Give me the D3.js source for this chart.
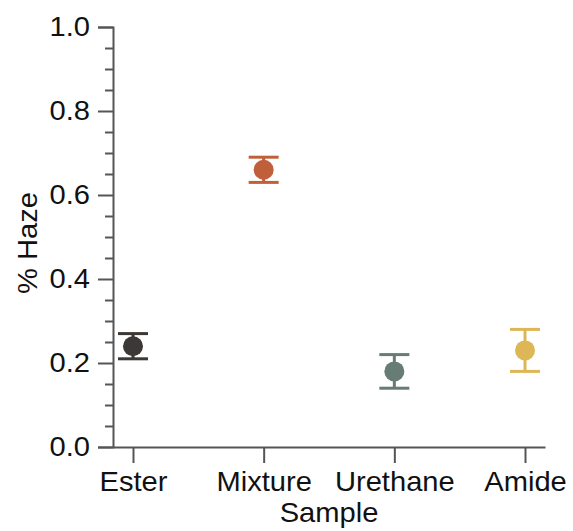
<!DOCTYPE html>
<html><head><meta charset="utf-8">
<script src="https://cdn.jsdelivr.net/npm/d3@7"></script>
<style>body{margin:0;background:#fff}svg{display:block}</style>
</head><body>
<svg id="c" width="573" height="531"></svg>
<script>
const categories = ["Ester", "Mixture", "Urethane", "Amide"];
const means = [0.24, 0.66, 0.18, 0.23];
const lower = [0.21, 0.63, 0.14, 0.18];
const upper = [0.27, 0.69, 0.22, 0.28];
const colors = ["#3b3835", "#c0603a", "#667c74", "#ddb655"];
const yTicks = [0, 0.2, 0.4, 0.6, 0.8, 1.0];
const yMinor = [0.05,0.1,0.15,0.25,0.3,0.35,0.45,0.5,0.55,0.65,0.7,0.75,0.85,0.9,0.95];

(function(){
const FONT = "'Liberation Sans', Arial, Helvetica, sans-serif";
const FS = 28, SX = 1.04, AX = "#555";
const svg = d3.select("#c");
const mLeft = 113, mRight = 545, mTop = 27, mBottom = 447;

const x = d3.scalePoint().domain(categories).range([mLeft, mRight]).padding(0.153);
const y = d3.scaleLinear().domain([0, 1]).range([mBottom, mTop]);

// y axis
const ya = svg.append("g").attr("transform", `translate(${mLeft},0)`)
  .call(d3.axisLeft(y).tickValues(yTicks).tickFormat(d3.format(".1f")).tickSize(15).tickPadding(8));
ya.select(".domain").attr("stroke", AX).attr("stroke-width", 2);
ya.selectAll(".tick line").attr("stroke", AX).attr("stroke-width", 2);
ya.selectAll(".tick text").attr("font-family", FONT).attr("font-size", FS).attr("fill", "#111")
  .attr("x", -23 / SX).attr("transform", `scale(${SX},1)`);
const ym = svg.append("g").attr("transform", `translate(${mLeft},0)`)
  .call(d3.axisLeft(y).tickValues(yMinor).tickFormat("").tickSize(8));
ym.select(".domain").remove();
ym.selectAll(".tick line").attr("stroke", AX).attr("stroke-width", 2);

// x axis
const xa = svg.append("g").attr("transform", `translate(0,${mBottom})`)
  .call(d3.axisBottom(x).tickSize(16).tickPadding(8).tickSizeOuter(0));
xa.select(".domain").attr("stroke", AX).attr("stroke-width", 2);
xa.selectAll(".tick line").attr("stroke", AX).attr("stroke-width", 2);
xa.selectAll(".tick text").attr("font-family", FONT).attr("font-size", FS).attr("fill", "#111")
  .attr("transform", `scale(${SX},1)`);

// titles
svg.append("text").attr("font-family", FONT).attr("font-size", FS).attr("fill", "#111")
  .attr("text-anchor", "middle")
  .attr("transform", `translate(329,522) scale(${SX},1)`).text("Sample");
svg.append("text").attr("font-family", FONT).attr("font-size", FS).attr("fill", "#111")
  .attr("text-anchor", "middle")
  .attr("transform", `translate(37,243) rotate(-90) scale(${SX},1)`).text("% Haze");

// error bars + points
const g = svg.append("g");
const data = categories.map((c, i) => ({c, m: means[i], lo: lower[i], hi: upper[i], col: colors[i]}));
const cap = 15;
data.forEach(d => {
  const cx = x(d.c);
  g.append("line").attr("x1", cx).attr("x2", cx).attr("y1", y(d.lo)).attr("y2", y(d.hi))
    .attr("stroke", d.col).attr("stroke-width", 3);
  [d.lo, d.hi].forEach(v => g.append("line").attr("x1", cx - cap).attr("x2", cx + cap)
    .attr("y1", y(v)).attr("y2", y(v)).attr("stroke", d.col).attr("stroke-width", 3));
  g.append("circle").attr("cx", cx).attr("cy", y(d.m)).attr("r", 10).attr("fill", d.col);
});
})();
</script>
</body></html>
